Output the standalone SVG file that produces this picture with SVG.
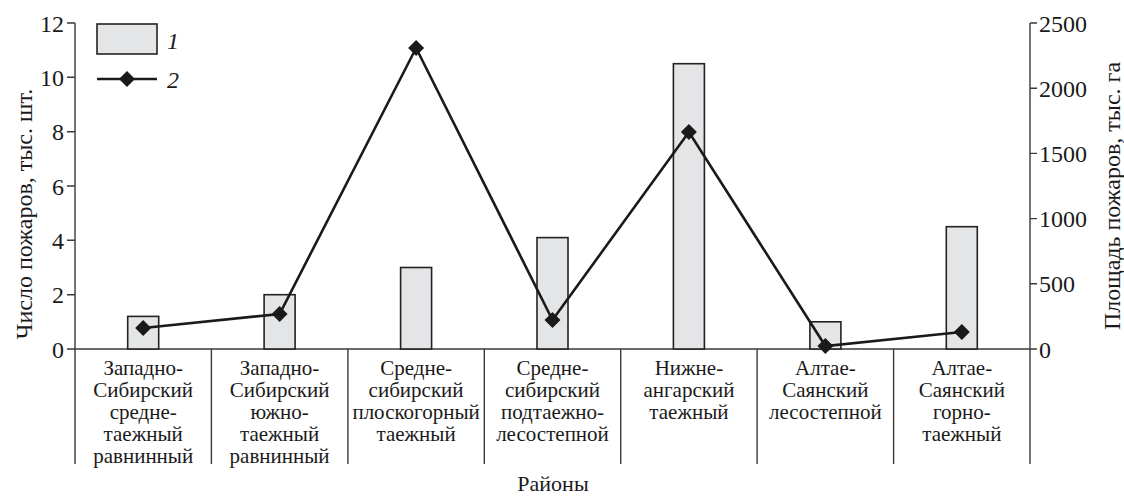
<svg xmlns="http://www.w3.org/2000/svg" width="1124" height="497" viewBox="0 0 1124 497">
<style>
text{font-family:"Liberation Serif","Times New Roman",serif;fill:#1a1a1a}
.tick{font-size:24px}
.cat{font-size:21px;text-anchor:middle}
.ttl{font-size:24px;text-anchor:middle}
.ax{stroke:#3a3a3a;stroke-width:1.4;fill:none}
.bar{fill:#e4e5e7;stroke:#222;stroke-width:1.6}
.ln{stroke:#1a1a1a;stroke-width:2.6;fill:none}
.lg{font-size:24px;font-style:italic}
</style>
<defs>
<path id="dm" d="M0,-8 L8,0 L0,8 L-8,0 Z" fill="#1a1a1a"/>
</defs>
<rect width="1124" height="497" fill="#fff"/>
<g id="axes">
<path class="ax" d="M75,23 V464 M1030,23 V464 M75,349 H1030 M211.4,349 V464 M347.9,349 V464 M484.3,349 V464 M620.7,349 V464 M757.1,349 V464 M893.6,349 V464"/>
<path class="ax" d="M67,349 H75 M67,294.7 H75 M67,240.3 H75 M67,186 H75 M67,131.7 H75 M67,77.3 H75 M67,23 H75"/>
<path class="ax" d="M1030,349 H1037 M1030,283.8 H1037 M1030,218.6 H1037 M1030,153.4 H1037 M1030,88.2 H1037 M1030,23 H1037"/>
</g>
<g id="left-ticks" class="tick" text-anchor="end">
<text x="64" y="357.5">0</text>
<text x="64" y="303.2">2</text>
<text x="64" y="248.8">4</text>
<text x="64" y="194.5">6</text>
<text x="64" y="140.2">8</text>
<text x="64" y="85.8">10</text>
<text x="64" y="31.5">12</text>
</g>
<g id="right-ticks" class="tick">
<text x="1039" y="357.5">0</text>
<text x="1039" y="292.3">500</text>
<text x="1039" y="227.1">1000</text>
<text x="1039" y="161.9">1500</text>
<text x="1039" y="96.7">2000</text>
<text x="1039" y="31.5">2500</text>
</g>
<g id="titles" class="ttl">
<text transform="translate(32,214) rotate(-90)">Число пожаров, тыс. шт.</text>
<text transform="translate(1120,196) rotate(-90)">Площадь пожаров, тыс. га</text>
<text x="553" y="491" style="font-size:22px">Районы</text>
</g>
<g id="bars">
<rect class="bar" x="127.7" y="316.4" width="31" height="32.6"/>
<rect class="bar" x="264.1" y="294.7" width="31" height="54.3"/>
<rect class="bar" x="400.6" y="267.5" width="31" height="81.5"/>
<rect class="bar" x="537" y="237.6" width="31" height="111.4"/>
<rect class="bar" x="673.4" y="63.7" width="31" height="285.3"/>
<rect class="bar" x="809.9" y="321.8" width="31" height="27.2"/>
<rect class="bar" x="946.3" y="226.7" width="31" height="122.3"/>
</g>
<g id="area-line">
<polyline class="ln" points="143.2,328 279.6,314 416.1,48 552.5,320 688.9,132 825.4,346 961.8,332"/>
<use href="#dm" x="143.2" y="328"/>
<use href="#dm" x="279.6" y="314"/>
<use href="#dm" x="416.1" y="48"/>
<use href="#dm" x="552.5" y="320"/>
<use href="#dm" x="688.9" y="132"/>
<use href="#dm" x="825.4" y="346"/>
<use href="#dm" x="961.8" y="332"/>
</g>
<g id="legend">
<rect class="bar" x="97" y="24" width="60" height="30"/>
<text class="lg" x="167" y="48.5">1</text>
<line class="ln" x1="97" y1="79" x2="157" y2="79"/>
<use href="#dm" x="127" y="79"/>
<text class="lg" x="167" y="87.5">2</text>
</g>
<g id="categories" class="cat">
<text x="143.2" y="375"><tspan x="143.2">Западно-</tspan><tspan x="143.2" dy="21.9">Сибирский</tspan><tspan x="143.2" dy="21.9">средне-</tspan><tspan x="143.2" dy="21.9">таежный</tspan><tspan x="143.2" dy="21.9">равнинный</tspan></text>
<text x="279.6" y="375"><tspan x="279.6">Западно-</tspan><tspan x="279.6" dy="21.9">Сибирский</tspan><tspan x="279.6" dy="21.9">южно-</tspan><tspan x="279.6" dy="21.9">таежный</tspan><tspan x="279.6" dy="21.9">равнинный</tspan></text>
<text x="416.1" y="375"><tspan x="416.1">Средне-</tspan><tspan x="416.1" dy="21.9">сибирский</tspan><tspan x="416.1" dy="21.9">плоскогорный</tspan><tspan x="416.1" dy="21.9">таежный</tspan></text>
<text x="552.5" y="375"><tspan x="552.5">Средне-</tspan><tspan x="552.5" dy="21.9">сибирский</tspan><tspan x="552.5" dy="21.9">подтаежно-</tspan><tspan x="552.5" dy="21.9">лесостепной</tspan></text>
<text x="688.9" y="375"><tspan x="688.9">Нижне-</tspan><tspan x="688.9" dy="21.9">ангарский</tspan><tspan x="688.9" dy="21.9">таежный</tspan></text>
<text x="825.4" y="375"><tspan x="825.4">Алтае-</tspan><tspan x="825.4" dy="21.9">Саянский</tspan><tspan x="825.4" dy="21.9">лесостепной</tspan></text>
<text x="961.8" y="375"><tspan x="961.8">Алтае-</tspan><tspan x="961.8" dy="21.9">Саянский</tspan><tspan x="961.8" dy="21.9">горно-</tspan><tspan x="961.8" dy="21.9">таежный</tspan></text>
</g>
</svg>
